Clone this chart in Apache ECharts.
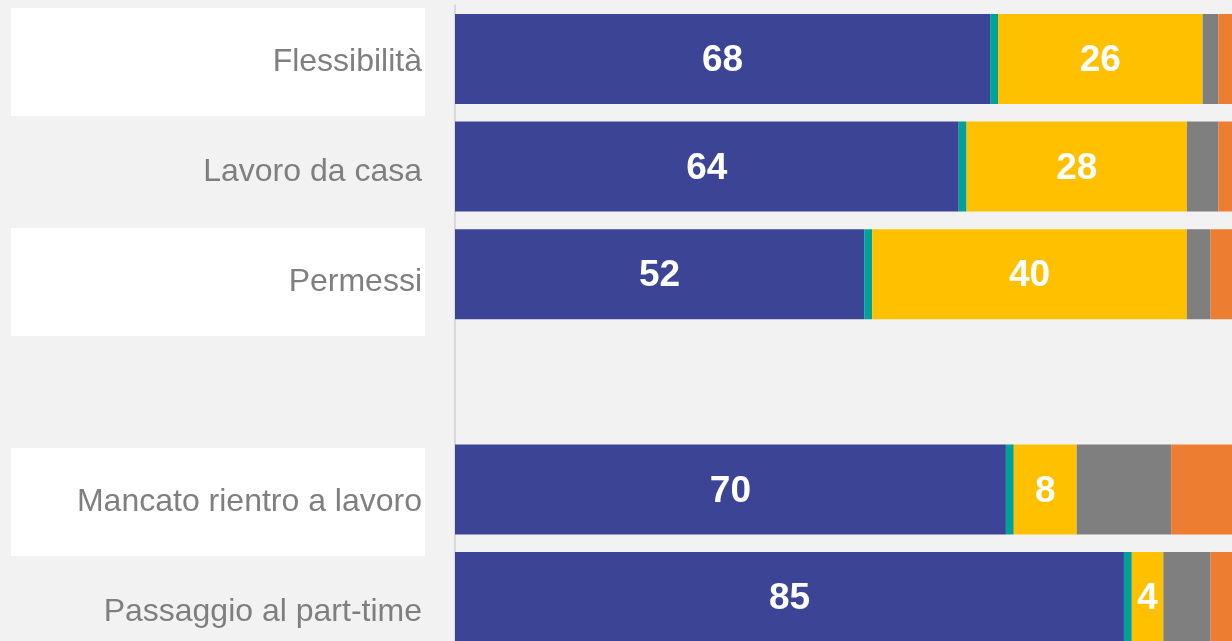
<!DOCTYPE html>
<html><head><meta charset="utf-8">
<script src="https://cdn.jsdelivr.net/npm/echarts@6/dist/echarts.min.js"></script>
<style>html,body{margin:0;padding:0;background:#f2f2f2;overflow:hidden;width:1232px;height:641px;}#c{width:1260px;height:700px;}</style>
</head><body><div id="c"></div>
<script>
const categories = ['Flessibilità', 'Lavoro da casa', 'Permessi', '', 'Mancato rientro a lavoro', 'Passaggio al part-time'];
const sBlue   = [68, 64, 52, null, 70, 85];
const sTeal   = [1, 1, 1, null, 1, 1];
const sYellow = [26, 28, 40, null, 8, 4];
const sGray   = [2, 4, 3, null, 12, 6];
const sOrange = [3, 3, 4, null, 9, 4];

const chart = echarts.init(document.getElementById('c'));
const FONT = "'Liberation Sans', Arial, sans-serif";
const lbl = {show: true, position: 'inside', offset: [0, 2], color: '#fff', fontFamily: FONT, fontWeight: 'bold', fontSize: 37};
function mk(name, data, color, showLabel) {
  return {name, type: 'bar', stack: 't', data, barWidth: 90, itemStyle: {color}, label: showLabel ? lbl : {show: false}, silent: true, xAxisIndex: 0, yAxisIndex: 0};
}
chart.setOption({
  backgroundColor: '#f2f2f2',
  animation: false,
  grid: [
    {left: 455, top: 5.2, width: 787, height: 645.6, containLabel: false},
    {left: 425, top: 7, width: 1, height: 660, containLabel: false}
  ],
  xAxis: [
    {type: 'value', min: 0, max: 100, gridIndex: 0, show: false},
    {type: 'value', min: 0, max: 1, gridIndex: 1, show: false}
  ],
  yAxis: [
    {type: 'category', gridIndex: 0, inverse: true, data: categories,
     axisLine: {show: true, lineStyle: {color: '#d9d9d9', width: 2}}, axisTick: {show: false}, axisLabel: {show: false}},
    {type: 'category', gridIndex: 1, inverse: true, data: categories,
     axisLine: {show: false}, axisTick: {show: false},
     axisLabel: {show: true, margin: 0, interval: 0,
       formatter: function (v, i) { return i % 2 === 0 ? '{w|' + v + '}' : '{g|' + v + '}'; },
       rich: {
         w: {backgroundColor: '#ffffff', width: 411, height: 108, lineHeight: 108, align: 'right', padding: [0, 3, 0, 0], color: '#7f7f7f', fontSize: 32, fontFamily: FONT},
         g: {width: 411, height: 108, lineHeight: 108, align: 'right', padding: [0, 3, 0, 0], color: '#7f7f7f', fontSize: 32, fontFamily: FONT}
       }}}
  ],
  series: [
    mk('Blu', sBlue, '#3c4595', true),
    mk('Verde', sTeal, '#00a19a', false),
    mk('Giallo', sYellow, '#ffc000', true),
    mk('Grigio', sGray, '#7f7f7f', false),
    mk('Arancio', sOrange, '#ed7d31', false),
    {type: 'bar', xAxisIndex: 1, yAxisIndex: 1, data: [], silent: true}
  ]
});
</script></body></html>
